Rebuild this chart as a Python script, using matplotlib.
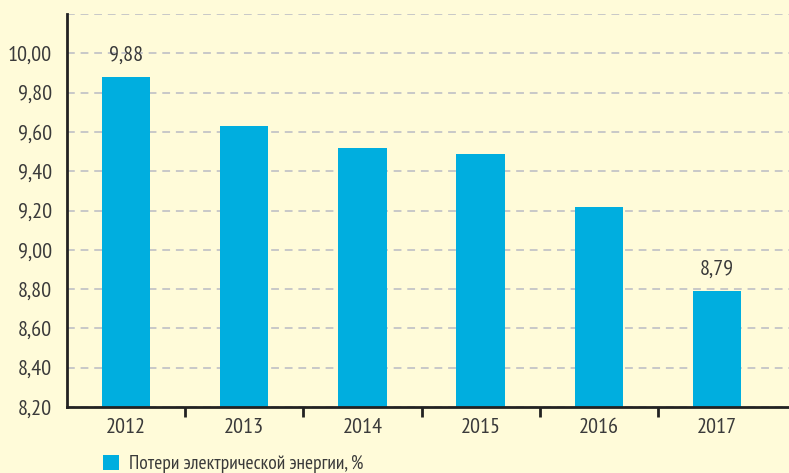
import matplotlib.pyplot as plt
from matplotlib.ticker import FuncFormatter, FixedLocator
from matplotlib.patches import Patch

years = ['2012', '2013', '2014', '2015', '2016', '2017']
losses = [9.88, 9.63, 9.52, 9.49, 9.22, 8.79]
labelled = [0, 5]
series_name = 'Потери электрической энергии, %'

bg = '#fffbd9'
bar_color = '#00aedf'
text_color = '#3a3a3a'

plt.rcParams['font.family'] = ['PT Sans Narrow', 'Fira Sans Extra Condensed', 'DejaVu Sans']

fig = plt.figure(figsize=(7.89, 4.73), dpi=100, facecolor=bg)
ax = fig.add_axes([67 / 789, 66 / 473, 1 - 67 / 789, (407 - 14) / 473])
ax.set_facecolor(bg)

x = list(range(len(years)))
bars = ax.bar(x, losses, width=0.41, color=bar_color, zorder=3)

ax.set_ylim(8.2, 10.2)
ax.set_xlim(-0.5, 5.61)
ax.set_yticks([8.2 + 0.2 * i for i in range(11)])
ax.yaxis.set_major_formatter(FuncFormatter(lambda v, p: '' if v > 10.1 else f'{v:.2f}'.replace('.', ',')))
ax.grid(axis='y', color='#c8c8c8', linestyle=(0, (4, 3)), linewidth=1.4, zorder=0)

# ticks sit between categories, year labels at the bar centres
ax.xaxis.set_major_locator(FixedLocator([i + 0.5 for i in range(len(years) - 1)]))
ax.xaxis.set_major_formatter(FuncFormatter(lambda v, p: ''))
ax.set_xticks(x, minor=True)
ax.set_xticklabels(years, minor=True)
ax.tick_params(axis='x', which='major', length=7, width=2, color='#222222', direction='out')
ax.tick_params(axis='x', which='minor', length=0, pad=8, labelsize=16, labelcolor=text_color)
ax.tick_params(axis='y', length=0, pad=11, labelsize=16, labelcolor=text_color)

for s in ['top', 'right']:
    ax.spines[s].set_visible(False)
for s in ['left', 'bottom']:
    ax.spines[s].set_linewidth(2)
    ax.spines[s].set_color('#222222')
    ax.spines[s].set_zorder(4)

for i in labelled:
    ax.annotate(f'{losses[i]:.2f}'.replace('.', ','), (x[i], losses[i]),
                xytext=(0, 9), textcoords='offset points', ha='center', va='bottom',
                fontsize=16, color=text_color)

handle = Patch(facecolor=bar_color)
fig.legend([handle], [series_name], loc='lower left', bbox_to_anchor=(85 / 789, -0.038),
           frameon=False, handlelength=0.85, handleheight=0.85, handletextpad=0.5,
           fontsize=14, labelcolor=text_color)

fig.savefig('out.png', dpi=100, facecolor=bg)
